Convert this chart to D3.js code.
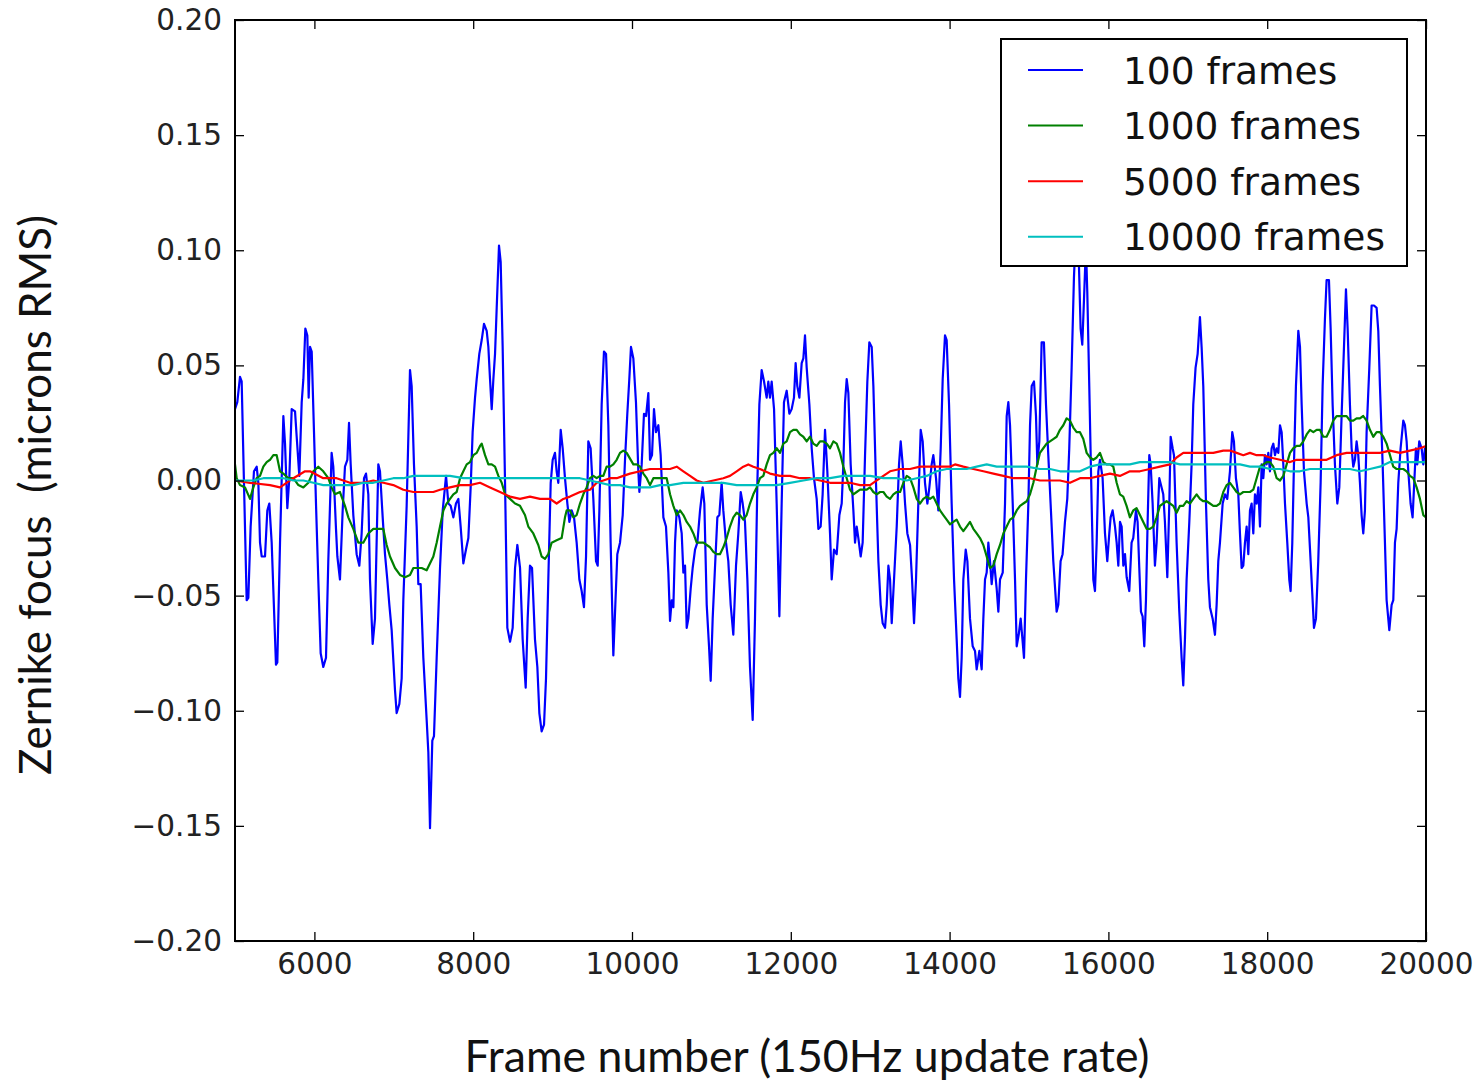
<!DOCTYPE html>
<html>
<head>
<meta charset="utf-8">
<script src="https://d3js.org/d3.v7.min.js"></script>
<style>
  body { margin: 0; background: #fff; }
</style>
</head>
<body>
<svg id="plot" width="1479" height="1085"></svg>
<script>
// running averages of the zernike focus term, [frame, microns RMS]
var avg100 = [
  [5000,0.031],[5029,0.034],[5063,0.045],[5084,0.043],[5113,-0.001],[5147,-0.052],[5168,-0.051],[5197,-0.020],[5239,0.004],[5273,0.006],[5294,-0.001],[5315,-0.027],[5336,-0.033],[5378,-0.033],[5407,-0.013],[5432,-0.010],[5462,-0.027],[5516,-0.080],[5533,-0.079],[5567,-0.027],[5609,0.028],[5630,0.016],[5659,-0.012],[5684,0.001],[5714,0.031],[5756,0.030],[5777,0.019],[5810,0.002],[5840,0.034],[5861,0.044],[5886,0.066],[5911,0.063],[5928,0.036],[5945,0.058],[5966,0.056],[5995,0.021],[6020,-0.010],[6049,-0.043],[6079,-0.075],[6112,-0.081],[6146,-0.077],[6175,-0.035],[6217,0.012],[6238,0.006],[6272,-0.021],[6289,-0.033],[6322,-0.043],[6356,-0.013],[6385,0.006],[6415,0.009],[6436,0.025],[6457,0.007],[6490,-0.015],[6532,-0.032],[6566,-0.037],[6595,-0.023],[6625,0.001],[6650,0.003],[6679,-0.006],[6700,-0.043],[6734,-0.071],[6763,-0.060],[6805,0.007],[6826,0.004],[6860,-0.016],[6889,-0.032],[6918,-0.043],[6944,-0.054],[6973,-0.065],[7015,-0.091],[7036,-0.101],[7070,-0.097],[7099,-0.086],[7120,-0.052],[7162,-0.011],[7204,0.048],[7225,0.041],[7254,0.007],[7288,-0.020],[7309,-0.045],[7338,-0.045],[7372,-0.077],[7414,-0.104],[7435,-0.118],[7456,-0.151],[7485,-0.113],
  [7506,-0.111],[7540,-0.077],[7582,-0.038],[7616,-0.013],[7658,0.002],[7687,-0.010],[7716,-0.011],[7750,-0.016],[7783,-0.010],[7813,-0.008],[7842,-0.020],[7876,-0.036],[7909,-0.030],[7939,-0.025],[7968,-0.003],[7993,0.021],[8023,0.036],[8044,0.044],[8077,0.055],[8107,0.061],[8136,0.068],[8170,0.065],[8191,0.058],[8212,0.044],[8233,0.031],[8254,0.044],[8275,0.055],[8296,0.075],[8325,0.102],[8346,0.095],[8371,0.058],[8401,-0.001],[8430,-0.064],[8464,-0.070],[8497,-0.064],[8527,-0.038],[8556,-0.028],[8590,-0.038],[8623,-0.069],[8661,-0.090],[8686,-0.060],[8715,-0.037],[8741,-0.038],[8778,-0.069],[8808,-0.081],[8833,-0.101],[8862,-0.109],[8892,-0.106],[8917,-0.086],[8946,-0.043],[8976,-0.001],[9001,0.009],[9030,0.012],[9051,0.004],[9072,-0.001],[9102,0.022],[9127,0.014],[9156,0.001],[9186,-0.010],[9211,-0.018],[9240,-0.013],[9270,-0.016],[9303,-0.027],[9337,-0.043],[9366,-0.048],[9395,-0.055],[9421,-0.033],[9450,0.017],[9479,0.014],[9513,-0.008],[9547,-0.035],[9568,-0.037],[9589,-0.013],[9618,0.033],[9647,0.056],[9673,0.055],[9702,0.024],[9731,-0.027],[9765,-0.076],[9790,-0.054],[9815,-0.032],[9849,-0.027],[9883,-0.015],[9912,0.009],[9941,0.029],[9966,0.044],[9987,0.058],[10017,0.053],[10050,0.034],[10080,0.004],
  [10093,-0.005],[10122,0.007],[10151,0.029],[10177,0.028],[10206,0.038],[10227,0.009],[10252,0.011],[10277,0.031],[10302,0.021],[10332,0.024],[10361,0.011],[10395,-0.016],[10428,-0.020],[10458,-0.040],[10479,-0.061],[10500,-0.052],[10521,-0.055],[10542,-0.027],[10563,-0.013],[10596,-0.016],[10626,-0.023],[10647,-0.040],[10668,-0.037],[10689,-0.064],[10710,-0.060],[10739,-0.047],[10764,-0.038],[10794,-0.030],[10823,-0.027],[10857,-0.013],[10890,-0.003],[10911,-0.010],[10941,-0.054],[10970,-0.072],[10991,-0.087],[11016,-0.060],[11045,-0.038],[11075,-0.016],[11100,-0.015],[11129,-0.001],[11150,-0.013],[11184,-0.027],[11213,-0.035],[11243,-0.054],[11276,-0.067],[11310,-0.037],[11339,-0.023],[11369,-0.005],[11394,-0.010],[11423,-0.018],[11453,-0.043],[11486,-0.081],[11520,-0.104],[11549,-0.060],[11579,-0.001],[11604,0.033],[11633,0.048],[11663,0.043],[11696,0.036],[11717,0.043],[11738,0.036],[11759,0.043],[11789,0.031],[11822,-0.010],[11856,-0.059],[11885,-0.010],[11914,0.034],[11948,0.039],[11982,0.029],[12011,0.031],[12040,0.036],[12061,0.051],[12082,0.041],[12108,0.036],[12137,0.051],[12158,0.053],[12179,0.063],[12200,0.049],[12234,0.033],[12263,0.014],[12292,0.001],[12326,-0.008],[12347,-0.021],[12376,-0.020],[12401,-0.006],[12431,0.022],[12460,0.004],[12494,-0.023],[12515,-0.043],[12544,-0.030],[12578,-0.032],
  [12612,-0.015],[12641,-0.010],[12662,0.007],[12683,0.034],[12704,0.044],[12725,0.038],[12754,0.007],[12788,-0.013],[12809,-0.027],[12830,-0.020],[12851,-0.025],[12880,-0.033],[12905,-0.027],[12935,0.011],[12964,0.043],[12989,0.060],[13019,0.058],[13040,0.041],[13073,-0.001],[13103,-0.035],[13132,-0.054],[13157,-0.062],[13187,-0.064],[13208,-0.054],[13229,-0.037],[13250,-0.043],[13271,-0.062],[13300,-0.043],[13334,-0.020],[13363,0.007],[13384,0.017],[13409,0.007],[13439,-0.010],[13468,-0.023],[13502,-0.028],[13527,-0.043],[13552,-0.062],[13577,-0.043],[13606,-0.010],[13636,0.022],[13661,0.017],[13690,-0.001],[13720,-0.010],[13745,-0.003],[13774,0.007],[13795,0.011],[13829,0.001],[13858,-0.013],[13888,0.014],[13913,0.044],[13942,0.063],[13963,0.061],[13993,0.033],[14026,-0.010],[14056,-0.043],[14089,-0.069],[14110,-0.086],[14131,-0.094],[14152,-0.077],[14173,-0.043],[14203,-0.030],[14224,-0.035],[14257,-0.060],[14291,-0.072],[14320,-0.074],[14341,-0.082],[14375,-0.074],[14404,-0.082],[14425,-0.060],[14446,-0.043],[14467,-0.040],[14488,-0.027],[14509,-0.035],[14530,-0.045],[14559,-0.035],[14593,-0.047],[14614,-0.057],[14635,-0.043],[14669,-0.040],[14698,-0.010],[14719,0.028],[14740,0.034],[14761,0.024],[14795,-0.010],[14824,-0.043],[14845,-0.072],[14870,-0.067],[14895,-0.060],[14920,-0.070],[14937,-0.077],[14962,-0.043],[14992,-0.010],[15013,0.024],[15034,0.041],[15063,0.043],[15088,0.028],[15105,0.007],
  [15130,0.017],[15159,0.060],[15188,0.060],[15214,0.033],[15243,0.011],[15272,-0.010],[15306,-0.035],[15348,-0.057],[15369,-0.054],[15398,-0.035],[15423,-0.032],[15453,-0.018],[15482,-0.008],[15507,0.014],[15537,0.049],[15566,0.088],[15587,0.106],[15621,0.104],[15650,0.066],[15671,0.059],[15692,0.078],[15717,0.102],[15734,0.082],[15759,0.041],[15789,-0.010],[15810,-0.043],[15831,-0.048],[15852,-0.027],[15873,0.004],[15894,0.009],[15927,0.001],[15957,-0.023],[15986,-0.035],[16011,-0.023],[16028,-0.016],[16053,-0.013],[16083,-0.020],[16104,-0.027],[16125,-0.037],[16146,-0.018],[16167,-0.020],[16188,-0.037],[16209,-0.032],[16230,-0.042],[16263,-0.048],[16292,-0.027],[16313,-0.025],[16347,-0.013],[16368,-0.018],[16389,-0.038],[16410,-0.057],[16431,-0.059],[16452,-0.072],[16473,-0.052],[16494,-0.018],[16515,0.011],[16532,0.007],[16557,-0.010],[16586,-0.037],[16607,-0.027],[16641,0.001],[16670,-0.003],[16691,-0.006],[16712,-0.018],[16742,-0.042],[16767,-0.010],[16784,0.019],[16809,0.014],[16826,0.011],[16859,-0.027],[16893,-0.057],[16922,-0.077],[16943,-0.089],[16964,-0.069],[16985,-0.043],[17019,-0.018],[17048,0.007],[17069,0.033],[17098,0.049],[17124,0.055],[17153,0.071],[17174,0.058],[17195,0.041],[17229,-0.010],[17258,-0.043],[17279,-0.055],[17313,-0.060],[17342,-0.067],[17363,-0.054],[17384,-0.035],[17405,-0.027],[17439,-0.010],[17468,-0.006],[17497,-0.008],[17531,0.004],[17560,0.021],[17581,0.017],[17606,0.001],[17636,-0.006],
  [17657,-0.023],[17678,-0.038],[17699,-0.037],[17720,-0.027],[17741,-0.020],[17762,-0.032],[17783,-0.013],[17804,-0.010],[17825,-0.023],[17846,-0.006],[17867,-0.010],[17888,-0.003],[17909,-0.020],[17930,0.007],[17951,0.001],[17972,0.011],[17993,0.007],[18014,0.012],[18035,0.004],[18056,0.014],[18077,0.016],[18098,0.011],[18119,0.014],[18140,0.012],[18161,0.024],[18182,0.021],[18203,0.007],[18224,-0.010],[18253,-0.027],[18278,-0.043],[18295,-0.048],[18316,-0.027],[18337,0.007],[18362,0.041],[18392,0.065],[18413,0.058],[18434,0.033],[18463,0.004],[18497,-0.010],[18518,-0.016],[18547,-0.035],[18572,-0.052],[18589,-0.064],[18614,-0.060],[18643,-0.035],[18673,-0.001],[18698,0.041],[18727,0.070],[18748,0.087],[18778,0.087],[18799,0.066],[18824,0.033],[18853,0.007],[18883,-0.010],[18908,-0.003],[18937,0.028],[18967,0.058],[18992,0.083],[19013,0.066],[19042,0.033],[19063,0.014],[19084,0.006],[19105,0.009],[19126,0.017],[19147,0.011],[19168,-0.001],[19189,-0.015],[19210,-0.023],[19231,-0.013],[19252,0.021],[19286,0.049],[19315,0.076],[19345,0.076],[19378,0.075],[19399,0.065],[19420,0.041],[19454,0.007],[19483,-0.027],[19504,-0.052],[19538,-0.065],[19567,-0.054],[19588,-0.052],[19609,-0.027],[19630,-0.021],[19651,-0.001],[19680,0.014],[19714,0.026],[19735,0.024],[19756,0.017],[19777,0.004],[19806,-0.010],[19831,-0.016],[19852,-0.001],[19873,0.014],[19890,0.007],[19915,0.017],[19945,0.014],[19966,0.007],[19987,0.014],[20000,0.011]
];

var avg1000 = [
  [5000,0.007],[5021,0.001],[5063,-0.002],[5126,-0.003],[5189,-0.008],[5231,-0.003],[5273,0.001],[5315,0.002],[5357,0.006],[5399,0.008],[5441,0.009],[5483,0.011],[5525,0.011],[5567,0.004],[5609,0.003],[5672,0.001],[5735,0.001],[5798,-0.002],[5861,-0.003],[5924,-0.001],[5987,0.004],[6049,0.006],[6112,0.004],[6175,0.001],[6217,-0.003],[6259,-0.006],[6322,-0.005],[6385,-0.011],[6427,-0.016],[6490,-0.021],[6553,-0.027],[6616,-0.027],[6679,-0.023],[6742,-0.021],[6805,-0.021],[6868,-0.021],[6910,-0.028],[6952,-0.033],[7015,-0.038],[7078,-0.041],[7141,-0.042],[7204,-0.041],[7246,-0.038],[7288,-0.038],[7351,-0.038],[7414,-0.039],
  [7498,-0.033],[7540,-0.027],[7582,-0.020],[7624,-0.013],[7666,-0.010],[7708,-0.008],[7750,-0.006],[7792,-0.005],[7834,0.001],[7876,0.004],[7918,0.007],[7960,0.008],[8002,0.011],[8044,0.012],[8086,0.015],[8107,0.016],[8149,0.011],[8191,0.007],[8233,0.007],[8275,0.006],[8317,0.002],[8359,-0.001],[8401,-0.006],[8464,-0.008],[8527,-0.010],[8589,-0.011],[8652,-0.015],[8694,-0.020],[8757,-0.023],[8820,-0.028],[8862,-0.033],[8904,-0.034],[8946,-0.032],[8988,-0.027],[9051,-0.026],[9114,-0.025],[9156,-0.016],[9177,-0.013],[9219,-0.013],[9261,-0.016],[9303,-0.015],[9345,-0.010],[9387,-0.006],[9429,-0.003],[9471,0.001],[9513,0.002],[9555,0.001],[9597,0.002],[9639,0.002],[9681,0.006],[9723,0.006],[9765,0.007],[9807,0.009],[9849,0.012],[9891,0.013],[9933,0.012],
  [10017,0.007],[10059,0.007],[10101,0.006],[10143,0.003],[10185,0.001],[10227,-0.002],[10269,0.001],[10311,0.001],[10353,0.001],[10395,0.001],[10437,0.001],[10479,-0.006],[10521,-0.011],[10563,-0.015],[10605,-0.013],[10647,-0.015],[10689,-0.018],[10731,-0.020],[10773,-0.023],[10815,-0.027],[10857,-0.027],[10899,-0.027],[10941,-0.028],[10983,-0.029],[11025,-0.031],[11066,-0.032],[11108,-0.032],[11150,-0.029],[11192,-0.025],[11234,-0.020],[11276,-0.016],[11318,-0.014],[11360,-0.015],[11402,-0.017],[11444,-0.015],[11486,-0.010],[11528,-0.006],[11570,-0.003],[11612,0.001],[11654,0.002],[11696,0.007],[11738,0.011],[11780,0.012],[11822,0.014],[11864,0.012],[11906,0.016],[11948,0.017],[11990,0.021],[12032,0.022],[12074,0.022],[12116,0.020],[12158,0.019],[12200,0.017],[12242,0.019],[12284,0.016],[12326,0.015],[12368,0.017],[12410,0.017],[12452,0.016],
  [12494,0.014],[12536,0.017],[12578,0.016],[12620,0.012],[12662,0.006],[12704,0.001],[12746,-0.004],[12788,-0.006],[12830,-0.005],[12872,-0.004],[12914,-0.004],[12956,-0.004],[12998,-0.003],[13040,-0.005],[13082,-0.006],[13124,-0.005],[13166,-0.005],[13208,-0.007],[13250,-0.008],[13292,-0.006],[13334,-0.005],[13376,-0.005],[13418,-0.001],[13460,0.002],[13502,0.001],[13544,-0.003],[13586,-0.008],[13627,-0.010],[13669,-0.008],[13711,-0.007],[13753,-0.008],[13795,-0.007],[13837,-0.010],[13879,-0.013],[13921,-0.015],[13963,-0.017],[14005,-0.019],[14047,-0.018],[14089,-0.017],[14131,-0.020],[14173,-0.022],[14215,-0.020],[14257,-0.018],[14299,-0.021],[14341,-0.023],[14383,-0.025],[14425,-0.028],[14467,-0.033],[14509,-0.038],[14551,-0.037],[14593,-0.032],[14635,-0.028],[14677,-0.023],[14719,-0.020],[14761,-0.017],[14803,-0.016],[14845,-0.013],[14887,-0.011],[14929,-0.010],[14971,-0.009],[15013,-0.006],[15055,-0.001],[15097,0.006],
  [15138,0.012],[15180,0.014],[15222,0.016],[15264,0.017],[15306,0.018],[15348,0.019],[15390,0.022],[15432,0.024],[15474,0.027],[15516,0.026],[15558,0.023],[15600,0.021],[15642,0.021],[15684,0.018],[15726,0.012],[15768,0.010],[15810,0.009],[15852,0.010],[15894,0.012],[15936,0.008],[15978,0.007],[16020,0.007],[16062,0.006],[16104,-0.001],[16145,-0.006],[16187,-0.007],[16229,-0.011],[16271,-0.016],[16313,-0.013],[16355,-0.012],[16397,-0.015],[16439,-0.018],[16481,-0.021],[16523,-0.021],[16565,-0.020],[16607,-0.016],[16649,-0.011],[16691,-0.010],[16733,-0.009],[16775,-0.010],[16817,-0.011],[16859,-0.014],[16901,-0.011],[16943,-0.011],[16985,-0.009],[17027,-0.010],[17069,-0.008],[17111,-0.006],[17153,-0.008],[17195,-0.009],[17237,-0.009],[17279,-0.010],[17321,-0.011],[17363,-0.011],[17405,-0.010],[17447,-0.005],[17489,-0.002],
  [17531,-0.001],[17573,-0.003],[17615,-0.005],[17657,-0.006],[17699,-0.005],[17741,-0.005],[17783,-0.005],[17825,-0.004],[17867,0.001],[17909,0.006],[17951,0.007],[17993,0.008],[18035,0.008],[18077,0.006],[18119,0.001],[18161,0.000],[18203,0.002],[18245,0.007],[18287,0.012],[18329,0.014],[18371,0.015],[18413,0.015],[18455,0.017],[18497,0.020],[18539,0.022],[18581,0.021],[18623,0.022],[18664,0.022],[18706,0.019],[18748,0.019],[18790,0.022],[18832,0.026],[18874,0.028],[18916,0.028],[18958,0.028],[19000,0.028],[19042,0.026],[19084,0.026],[19126,0.027],[19168,0.027],[19210,0.028],[19252,0.026],[19294,0.022],[19336,0.019],[19378,0.021],[19420,0.021],[19462,0.019],[19504,0.016],[19546,0.011],[19588,0.006],[19630,0.005],[19672,0.005],[19714,0.005],[19756,0.004],[19798,0.002],[19840,0.001],[19882,-0.003],[19924,-0.008],[19966,-0.015],[20000,-0.016]
];

var avg5000 = [
  [5000,0.000],[5189,-0.001],[5441,-0.002],[5567,-0.003],[5735,0.001],[5882,0.004],[5945,0.004],[6112,0.001],[6280,0.001],[6448,-0.001],[6616,-0.001],[6742,0.000],[6868,-0.001],[6994,-0.002],[7120,-0.004],[7246,-0.005],[7372,-0.005],[7498,-0.005],[7582,-0.004],[7708,-0.003],[7834,-0.002],[7960,-0.002],[8086,-0.001],[8212,-0.003],[8338,-0.005],[8464,-0.007],[8589,-0.008],[8715,-0.007],[8841,-0.008],[8967,-0.008],[9051,-0.010],[9135,-0.008],[9219,-0.007],[9345,-0.005],[9471,-0.004],[9555,-0.001],[9639,0.000],[9723,0.001],[9807,0.001],[9891,0.002],[9975,0.003],[10101,0.004],[10227,0.005],[10353,0.005],[10479,0.005],[10563,0.006],[10647,0.004],[10731,0.002],[10815,0.000],[10899,-0.001],[11025,0.000],[11150,0.001],[11234,0.002],[11318,0.004],[11402,0.006],[11465,0.007],[11528,0.006],[11612,0.005],[11738,0.003],[11864,0.002],[11990,0.002],[12116,0.001],[12242,0.001],[12368,0.000],[12494,-0.001],[12620,-0.001],[12746,-0.001],[12872,-0.002],[12998,-0.002],[13124,0.001],[13250,0.004],[13376,0.005],[13502,0.005],[13627,0.006],[13753,0.006],[13879,0.006],[14005,0.006],[14068,0.007],[14173,0.006],[14299,0.005],[14425,0.004],[14551,0.003],[14677,0.002],[14803,0.001],[14929,0.001],[15012,0.001],[15138,0.000],[15264,0.000],[15390,0.000],[15516,-0.001],[15642,0.001],[15768,0.001],[15894,0.002],[16020,0.003],[16145,0.002],[16271,0.004],[16397,0.004],[16523,0.005],[16649,0.006],[16775,0.007],[16859,0.010],[16943,0.012],[17069,0.012],[17195,0.012],[17321,0.012],[17447,0.013],[17531,0.013],[17615,0.012],[17699,0.011],[17783,0.012],[17867,0.011],[17951,0.011],[18035,0.010],[18161,0.009],[18287,0.008],[18371,0.009],[18497,0.009],[18623,0.009],[18748,0.009],[18874,0.011],[19000,0.012],[19126,0.012],[19210,0.012],[19294,0.012],[19420,0.012],[19546,0.013],[19672,0.012],[19798,0.013],[19924,0.014],[20000,0.015]
];

var avg10000 = [
  [5000,0.000],[5105,0.000],[5231,0.000],[5357,0.001],[5483,0.001],[5609,0.001],[5735,0.000],[5861,0.000],[5987,-0.001],[6112,-0.002],[6238,-0.002],[6364,-0.002],[6490,-0.002],[6616,-0.001],[6742,-0.001],[6868,0.000],[6994,0.001],[7120,0.001],[7246,0.002],[7372,0.002],[7498,0.002],[7708,0.002],[7876,0.001],[8086,0.001],[8296,0.001],[8506,0.001],[8715,0.001],[8925,0.001],[9135,0.001],[9345,0.001],[9471,0.000],[9597,-0.001],[9723,-0.002],[9849,-0.002],[9975,-0.003],[10101,-0.003],[10227,-0.003],[10353,-0.002],[10479,-0.002],[10647,-0.001],[10815,-0.001],[10983,-0.001],[11150,-0.001],[11318,-0.002],[11486,-0.002],[11654,-0.002],[11822,-0.002],[11990,-0.001],[12158,0.000],[12326,0.001],[12494,0.001],[12662,0.002],[12830,0.002],[12998,0.002],[13166,0.001],[13334,0.001],[13460,0.000],[13586,0.001],[13711,0.002],[13837,0.004],[13963,0.005],[14089,0.005],[14215,0.005],[14341,0.006],[14467,0.007],[14593,0.006],[14719,0.006],[14845,0.006],[14971,0.006],[15138,0.005],[15264,0.005],[15390,0.004],[15516,0.004],[15642,0.004],[15768,0.006],[15894,0.007],[16020,0.007],[16145,0.007],[16271,0.007],[16397,0.008],[16523,0.008],[16649,0.008],[16775,0.008],[16901,0.007],[17027,0.007],[17153,0.007],[17279,0.007],[17405,0.007],[17531,0.007],[17657,0.007],[17783,0.006],[17909,0.006],[18035,0.005],[18161,0.005],[18287,0.004],[18413,0.004],[18539,0.005],[18664,0.005],[18790,0.005],[18916,0.005],[19042,0.005],[19168,0.004],[19294,0.005],[19420,0.006],[19546,0.008],[19672,0.008],[19798,0.008],[19924,0.008],[20000,0.008]
];

var seriesLabels = ["100 frames", "1000 frames", "5000 frames", "10000 frames"];
var seriesColors = ["#0000ff", "#008000", "#ff0000", "#00bfbf"];
var xTicks = [6000, 8000, 10000, 12000, 14000, 16000, 18000, 20000];
var yTicks = [-0.20, -0.15, -0.10, -0.05, 0.00, 0.05, 0.10, 0.15, 0.20];

var svg = d3.select("#plot"),
    margin = {top: 20, right: 53, bottom: 144, left: 235},
    width = +svg.attr("width") - margin.left - margin.right,
    height = +svg.attr("height") - margin.top - margin.bottom,
    g = svg.append("g").attr("transform", "translate(" + margin.left + "," + margin.top + ")");

var x = d3.scaleLinear().domain([5000, 20000]).range([0, width]);
var y = d3.scaleLinear().domain([-0.2, 0.2]).range([height, 0]);

var tickFont = "DejaVu Sans, sans-serif";

// clip so lines stay inside the frame
svg.append("defs").append("clipPath").attr("id", "clip")
    .append("rect").attr("width", width).attr("height", height);

var line = d3.line()
    .x(function (d) { return x(d[0]); })
    .y(function (d) { return y(d[1]); });

var allSeries = [avg100, avg1000, avg5000, avg10000];

g.append("g").attr("clip-path", "url(#clip)")
    .selectAll("path")
    .data(allSeries)
    .enter().append("path")
    .attr("d", line)
    .attr("fill", "none")
    .attr("stroke", function (d, i) { return seriesColors[i]; })
    .attr("stroke-width", 2.2)
    .attr("stroke-linejoin", "round");

// axes, ticks pointing inward on all four sides
function styleAxis(sel) {
    sel.select(".domain").remove();
    sel.selectAll(".tick line").attr("stroke", "#000").attr("stroke-width", 1.3);
    sel.selectAll("text").attr("fill", "#222").style("font-family", tickFont).style("font-size", "29.5px");
}

g.append("g")
    .attr("transform", "translate(0," + height + ")")
    .call(d3.axisBottom(x).tickValues(xTicks).tickSize(-9).tickPadding(12).tickFormat(d3.format("d")))
    .call(styleAxis);

g.append("g")
    .call(d3.axisTop(x).tickValues(xTicks).tickSize(-9).tickFormat(""))
    .call(styleAxis);

g.append("g")
    .call(d3.axisLeft(y).tickValues(yTicks).tickSize(-9).tickPadding(13).tickFormat(d3.format(".2f")))
    .call(styleAxis);

g.append("g")
    .attr("transform", "translate(" + width + ",0)")
    .call(d3.axisRight(y).tickValues(yTicks).tickSize(-9).tickFormat(""))
    .call(styleAxis);

g.append("rect")
    .attr("width", width)
    .attr("height", height)
    .attr("fill", "none")
    .attr("stroke", "#000")
    .attr("stroke-width", 2);

// legend
var legend = g.append("g").attr("transform", "translate(" + (1001 - margin.left) + "," + (39 - margin.top) + ")");

legend.append("rect")
    .attr("width", 406)
    .attr("height", 227)
    .attr("fill", "#fff")
    .attr("stroke", "#000")
    .attr("stroke-width", 2);

var rows = legend.selectAll(".row")
    .data(seriesLabels)
    .enter().append("g")
    .attr("class", "row")
    .attr("transform", function (d, i) { return "translate(0," + (31 + i * 55.6) + ")"; });

rows.append("line")
    .attr("x1", 27).attr("x2", 82)
    .attr("stroke", function (d, i) { return seriesColors[i]; })
    .attr("stroke-width", 2);

rows.append("text")
    .attr("x", 122)
    .attr("dy", "0.36em")
    .style("font-family", tickFont)
    .style("font-size", "37.5px")
    .attr("fill", "#111")
    .text(function (d) { return d; });

// axis titles, sized to the width they take in the picture
function fitText(sel, target) {
    var len = sel.node().getComputedTextLength();
    var size = parseFloat(sel.style("font-size"));
    sel.style("font-size", (size * target / len) + "px");
}

var xTitle = svg.append("text")
    .attr("x", 807)
    .attr("y", 1072)
    .attr("text-anchor", "middle")
    .style("font-family", "Lato, 'Open Sans', sans-serif")
    .style("font-size", "40px")
    .attr("fill", "#111")
    .text("Frame number (150Hz update rate)");
fitText(xTitle, 685);

var yTitle = svg.append("text")
    .attr("transform", "translate(51,495) rotate(-90)")
    .attr("text-anchor", "middle")
    .style("font-family", "Lato, 'Open Sans', sans-serif")
    .style("font-size", "40px")
    .style("white-space", "pre")
    .attr("fill", "#111")
    .text("Zernike focus  (microns RMS)");
fitText(yTitle, 560);
</script>
</body>
</html>
